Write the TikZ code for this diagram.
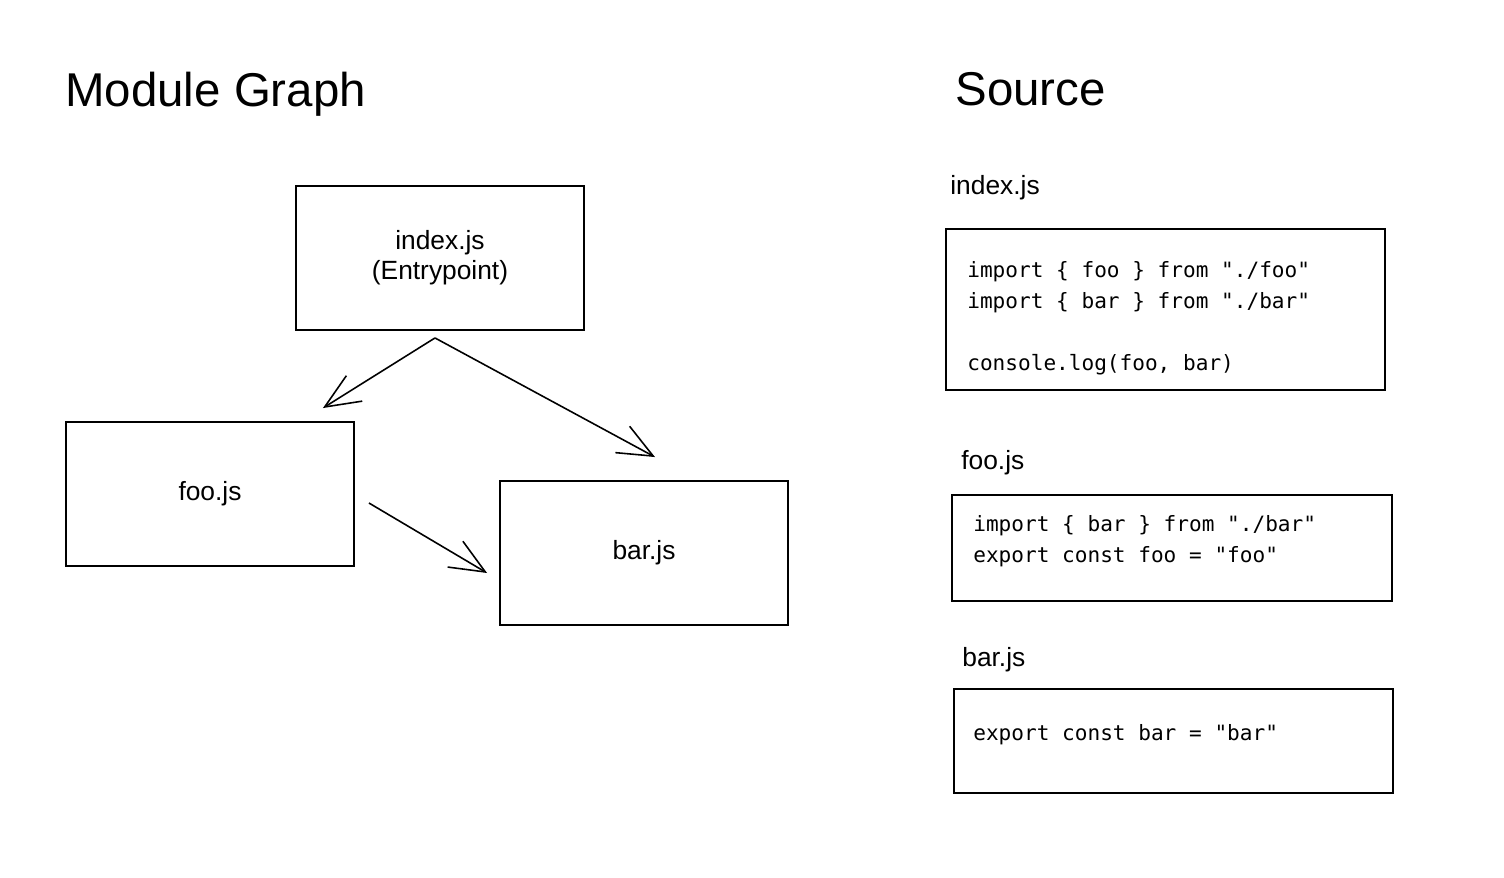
\documentclass[tikz,border=0pt]{standalone}
\usepackage{fontspec}
\setmainfont{Liberation Sans}
\newfontfamily\codefont{DejaVu Sans Mono}
\usetikzlibrary{arrows.meta}
\usetikzlibrary{positioning}

\tikzset{
  modbox/.style={draw, line width=1.1pt, minimum width=5.76cm, minimum height=2.88cm,
    align=center, font=\fontsize{15}{17}\selectfont},
  srcbox/.style={draw, line width=1.1pt, minimum width=8.8cm, anchor=north west},
  code/.style={font=\codefont\fontsize{12}{17.6}\selectfont, align=left, anchor=north west, inner sep=0pt},
  title/.style={font=\fontsize{27}{32}\selectfont, anchor=base west, inner sep=0pt},
  fname/.style={font=\fontsize{15}{17}\selectfont, anchor=west, inner sep=0pt},
  dep/.style={-{Straight Barb[length=7mm,width=6mm]}, line width=0.9pt}
}

\begin{document}
\begin{tikzpicture}[x=0.02cm,y=-0.02cm]
\useasboundingbox (0,0) rectangle (1504,878);
% module graph
\node[title] (mgtitle) at (65,107) {Module Graph};
\node[modbox] (idx) at (440,258) {index.js\\(Entrypoint)};
\node[modbox] (foo) at (210,494) {foo.js};
\node[modbox] (bar) at (644,553) {bar.js};
\coordinate (idxout) at ([shift={(-5,7)}]idx.south);
\coordinate (fooin) at ([shift={(-32,-13)}]foo.north east);
\coordinate (barin) at ([shift={(11,-23)}]bar.north);
\coordinate (fooout) at ([shift={(14,9)}]foo.east);
\coordinate (barside) at ([shift={(-12,20)}]bar.west);
\draw[dep] (idxout) -- (fooin);
\draw[dep] (idxout) -- (barin);
\draw[dep] (fooout) -- (barside);
% source
\node[title] (srctitle) at (955,106) {Source};
\node[srcbox, minimum width=8.78cm, minimum height=3.22cm] (idxsrc) at (945,228) {};
\node[srcbox, minimum height=2.12cm] (foosrc) at (951,494) {};
\node[srcbox, minimum width=8.78cm, minimum height=2.08cm] (barsrc) at (953,688) {};
\node[fname] (idxname) at ([shift={(5,-40)}]idxsrc.north west) {index.js};
\node[fname] (fooname) at ([shift={(10,-31)}]foosrc.north west) {foo.js};
\node[fname] (barname) at ([shift={(9,-28)}]barsrc.north west) {bar.js};
\node[code] (idxcode) at ([shift={(22,33)}]idxsrc.north west)
  {import \{ foo \} from "./foo"\\import \{ bar \} from "./bar"\\[17.6pt]console.log(foo, bar)};
\node[code] (foocode) at ([shift={(22,21)}]foosrc.north west)
  {import \{ bar \} from "./bar"\\export const foo = "foo"};
\node[code] (barcode) at ([shift={(20,36)}]barsrc.north west)
  {export const bar = "bar"};
\end{tikzpicture}
\end{document}
